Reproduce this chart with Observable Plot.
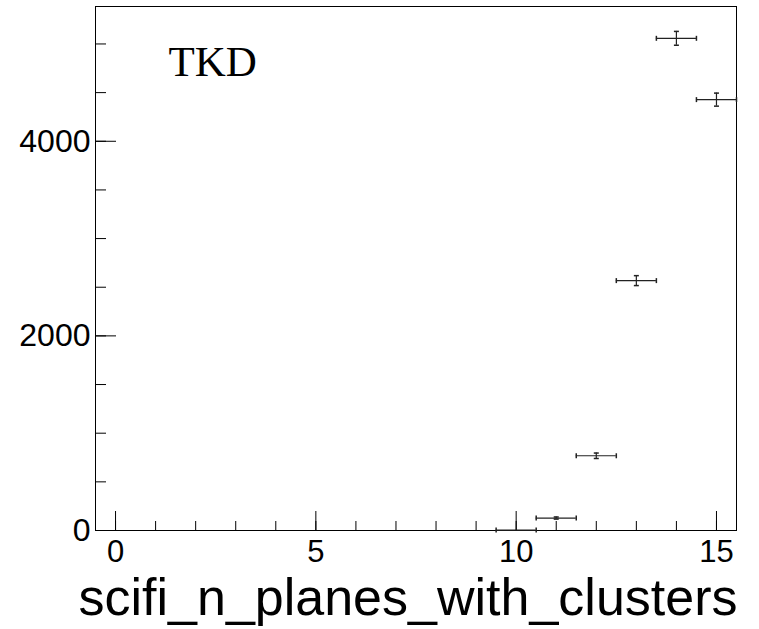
<!DOCTYPE html>
<html>
<head>
<meta charset="utf-8">
<script src="https://cdn.jsdelivr.net/npm/d3@7"></script>
<script src="https://cdn.jsdelivr.net/npm/@observablehq/plot@0.6"></script>
<style>
  html, body { margin: 0; padding: 0; background: #fff; }
</style>
</head>
<body>
<div id="chart"></div>
<script>
// ---- data ----
const bins   = [10, 11, 12, 13, 14, 15];
const counts = [4, 128, 768, 2568, 5058, 4428];
const errors = [2, 11, 28, 51, 71, 67];
const binWidth = 1;
const xDomain = [-0.5, 15.5];
const yDomain = [0, 5385];
const xMajorTicks = [0, 5, 10, 15];
const xMinorTicks = [0, 1, 2, 3, 4, 5, 6, 7, 8, 9, 10, 11, 12, 13, 14, 15];
const yMajorTicks = [0, 2000, 4000];
const yMinorTicks = [0, 500, 1000, 1500, 2000, 2500, 3000, 3500, 4000, 4500, 5000];
const titleText = "TKD";
const xLabelText = "scifi_n_planes_with_clusters";

const rows = bins.map((b, i) => ({bin: b, count: counts[i], err: errors[i]}));

const vCap = {draw(ctx, size) { const r = Math.sqrt(size / Math.PI); ctx.moveTo(0, -r); ctx.lineTo(0, r); }};
const hCap = {draw(ctx, size) { const r = Math.sqrt(size / Math.PI); ctx.moveTo(-r, 0); ctx.lineTo(r, 0); }};
const ink = "#222";
const blank = () => "";

const chart = Plot.plot({
  width: 759,
  height: 629,
  marginLeft: 95,
  marginRight: 23,
  marginTop: 6,
  marginBottom: 99,
  style: {fontFamily: "'Liberation Sans', Arial, Helvetica, sans-serif", color: "#000", background: "#fff"},
  x: {domain: xDomain},
  y: {domain: yDomain},
  marks: [
    Plot.frame({stroke: "#000"}),
    // x axis ticks (inside) and labels
    Plot.axisX(xMinorTicks, {tickSize: -9, tickFormat: blank, label: null, stroke: "#000"}),
    Plot.axisX(xMajorTicks, {tickSize: -19, tickFormat: blank, label: null, stroke: "#000"}),
    Plot.axisX(xMajorTicks, {tickSize: 0, tickPadding: 9, fontSize: 31, tickFormat: d => String(d), label: null}),
    // y axis ticks (inside) and labels
    Plot.axisY(yMinorTicks, {tickSize: -11, tickFormat: blank, label: null, stroke: "#000"}),
    Plot.axisY(yMajorTicks, {tickSize: -21, tickFormat: blank, label: null, stroke: "#000"}),
    Plot.axisY(yMajorTicks, {tickSize: 0, tickPadding: 5, fontSize: 32, tickFormat: d => String(d), label: null}),
    // error bars
    Plot.ruleY(rows, {y: "count", x1: d => d.bin - binWidth / 2, x2: d => d.bin + binWidth / 2, stroke: ink, strokeWidth: 1.2}),
    Plot.ruleX(rows, {x: "bin", y1: d => d.count - d.err, y2: d => d.count + d.err, stroke: ink, strokeWidth: 1.2}),
    Plot.dot(rows, {x: d => d.bin - binWidth / 2, y: "count", symbol: vCap, r: 2.5, stroke: ink, fill: "none"}),
    Plot.dot(rows, {x: d => d.bin + binWidth / 2, y: "count", symbol: vCap, r: 2.5, stroke: ink, fill: "none"}),
    Plot.dot(rows.filter(d => d.err > 5), {x: "bin", y: d => d.count - d.err, symbol: hCap, r: 2.5, stroke: ink, fill: "none"}),
    Plot.dot(rows.filter(d => d.err > 5), {x: "bin", y: d => d.count + d.err, symbol: hCap, r: 2.5, stroke: ink, fill: "none"}),
    // texts
    Plot.text([titleText], {text: d => d, frameAnchor: "top-left", textAnchor: "start", lineAnchor: "middle", dx: 73, dy: 56, fontFamily: "'Liberation Serif', 'Times New Roman', serif", fontSize: 43, fill: "#000"}),
    Plot.text([xLabelText], {text: d => d, frameAnchor: "bottom-right", textAnchor: "end", lineAnchor: "middle", dx: 1, dy: 68, fontSize: 52, fill: "#000"})
  ]
});
document.getElementById("chart").appendChild(chart);
</script>
</body>
</html>
